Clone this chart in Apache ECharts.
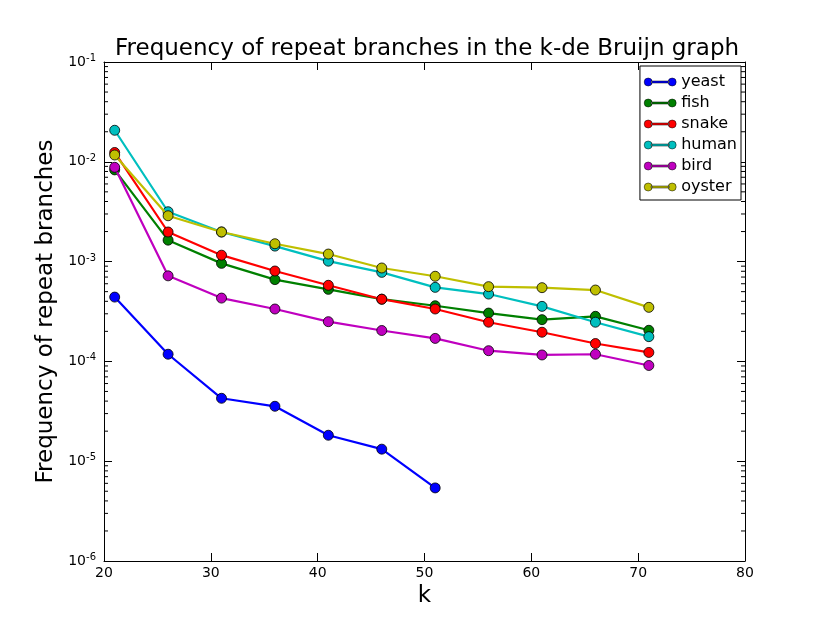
<!DOCTYPE html>
<html><head><meta charset="utf-8">
<script src="https://cdn.jsdelivr.net/npm/echarts@6/dist/echarts.min.js"></script>
<style>html,body{margin:0;padding:0;background:#fff}#c{width:830px;height:623px}</style>
</head><body><div id="c"></div>
<script>
var kYeast = [21, 26, 31, 36, 41, 46, 51];
var kAll = [21, 26, 31, 36, 41, 46, 51, 56, 61, 66, 71];
var yeast = [4.41e-4, 1.18e-4, 4.27e-5, 3.55e-5, 1.82e-5, 1.32e-5, 5.4e-6];
var fish = [8.3e-3, 1.64e-3, 9.6e-4, 6.6e-4, 5.27e-4, 4.2e-4, 3.61e-4, 3.05e-4, 2.62e-4, 2.83e-4, 2.05e-4];
var snake = [1.24e-2, 1.98e-3, 1.16e-3, 8.05e-4, 5.79e-4, 4.2e-4, 3.35e-4, 2.47e-4, 1.96e-4, 1.51e-4, 1.23e-4];
var human = [2.07e-2, 3.16e-3, 1.98e-3, 1.43e-3, 1.01e-3, 7.8e-4, 5.52e-4, 4.73e-4, 3.56e-4, 2.47e-4, 1.77e-4];
var bird = [8.8e-3, 7.2e-4, 4.31e-4, 3.35e-4, 2.5e-4, 2.04e-4, 1.7e-4, 1.28e-4, 1.16e-4, 1.18e-4, 9.1e-5];
var oyster = [1.17e-2, 2.88e-3, 1.98e-3, 1.51e-3, 1.19e-3, 8.63e-4, 7.13e-4, 5.61e-4, 5.48e-4, 5.19e-4, 3.48e-4];
var names = ['yeast', 'fish', 'snake', 'human', 'bird', 'oyster'];
var colors = ['#0000ff', '#008000', '#ff0000', '#00bfbf', '#bf00bf', '#bfbf00'];

function pairs(xs, ys) { return xs.map(function (x, i) { return [x, ys[i]]; }); }
var allY = [yeast, fish, snake, human, bird, oyster];

var minorVals = [];
for (var d = -6; d < -1; d++) for (var m = 2; m <= 9; m++) minorVals.push(m * Math.pow(10, d));

var legendIcon = 'path://M0,4A4,4 0 1,0 8,4A4,4 0 1,0 0,4Z M7,3H25V5H7Z M24,4A4,4 0 1,0 32,4A4,4 0 1,0 24,4Z';

var series = names.map(function (n, i) {
  return {
    name: n, type: 'line', xAxisIndex: 0, yAxisIndex: 0,
    data: pairs(i === 0 ? kYeast : kAll, allY[i]),
    symbol: 'circle', symbolSize: 10,
    lineStyle: { width: 2.2, color: colors[i] },
    itemStyle: { color: colors[i], borderColor: '#000', borderWidth: 0.8 },
    emphasis: { disabled: true }, animation: false, z: 3 + i
  };
});
series.push({
  type: 'custom', xAxisIndex: 0, yAxisIndex: 0, silent: true, animation: false,
  data: minorVals.map(function (v) { return [20, v]; }),
  renderItem: function (params, api) {
    var l = api.coord([20, api.value(1)]);
    var r = api.coord([80, api.value(1)]);
    return { type: 'group', children: [
      { type: 'line', shape: { x1: l[0], y1: l[1], x2: l[0] + 4, y2: l[1] }, style: { stroke: '#000', lineWidth: 1 } },
      { type: 'line', shape: { x1: r[0], y1: r[1], x2: r[0] - 4, y2: r[1] }, style: { stroke: '#000', lineWidth: 1 } }
    ] };
  }
});

var chart = echarts.init(document.getElementById('c'));
chart.setOption({
  backgroundColor: '#fff',
  animation: false,
  textStyle: { fontFamily: 'DejaVu Sans' },
  title: { text: 'Frequency of repeat branches in the k-de Bruijn graph', left: 110, top: 33,
    textStyle: { fontFamily: 'DejaVu Sans', fontSize: 23, fontWeight: 'normal', color: '#000' } },
  legend: {
    data: names, orient: 'vertical', right: 89, top: 66,
    backgroundColor: '#fff', borderColor: '#000', borderWidth: 1, padding: [8, 4, 5, 4],
    icon: legendIcon,
    itemWidth: 32, itemHeight: 8, itemGap: 5, itemStyle: { borderWidth: 0.5, borderColor: '#000' },
    textStyle: { fontFamily: 'DejaVu Sans', fontSize: 16, color: '#000' }
  },
  grid: { left: 104, right: 85, top: 62, bottom: 62 },
  xAxis: [{
    type: 'value', min: 20, max: 80, interval: 10, position: 'bottom',
    name: 'k', nameLocation: 'middle', nameGap: 23,
    nameTextStyle: { fontFamily: 'DejaVu Sans', fontSize: 23, color: '#000' },
    axisLine: { show: true, onZero: false, lineStyle: { color: '#000', width: 1 } },
    axisTick: { show: true, inside: true, length: 8, lineStyle: { color: '#000' } },
    axisLabel: { fontSize: 14, color: '#000', margin: 5 },
    splitLine: { show: false }
  }, {
    type: 'value', min: 20, max: 80, interval: 10, position: 'top',
    axisLine: { show: true, onZero: false, lineStyle: { color: '#000', width: 1 } },
    axisTick: { show: true, inside: true, length: 8, lineStyle: { color: '#000' } },
    axisLabel: { show: false }, splitLine: { show: false }
  }],
  yAxis: [{
    type: 'log', logBase: 10, min: 1e-6, max: 1e-1, position: 'left',
    name: 'Frequency of repeat branches', nameLocation: 'middle', nameGap: 45,
    nameTextStyle: { fontFamily: 'DejaVu Sans', fontSize: 23, color: '#000' },
    axisLine: { show: true, onZero: false, lineStyle: { color: '#000', width: 1 } },
    axisTick: { show: true, inside: true, length: 8, lineStyle: { color: '#000' } },
    axisLabel: {
      color: '#000', margin: 8,
      formatter: function (v) {
        var e = Math.round(Math.log10(v));
        return '{b|10}{s|' + e + '}';
      },
      rich: {
        b: { fontSize: 14, fontFamily: 'DejaVu Sans', color: '#000' },
        s: { fontSize: 10, fontFamily: 'DejaVu Sans', color: '#000', padding: [0, 0, 7, 0] }
      }
    },
    splitLine: { show: false }
  }, {
    type: 'log', logBase: 10, min: 1e-6, max: 1e-1, position: 'right',
    axisLine: { show: true, onZero: false, lineStyle: { color: '#000', width: 1 } },
    axisTick: { show: true, inside: true, length: 8, lineStyle: { color: '#000' } },
    axisLabel: { show: false }, splitLine: { show: false }
  }],
  series: series
});
</script></body></html>
